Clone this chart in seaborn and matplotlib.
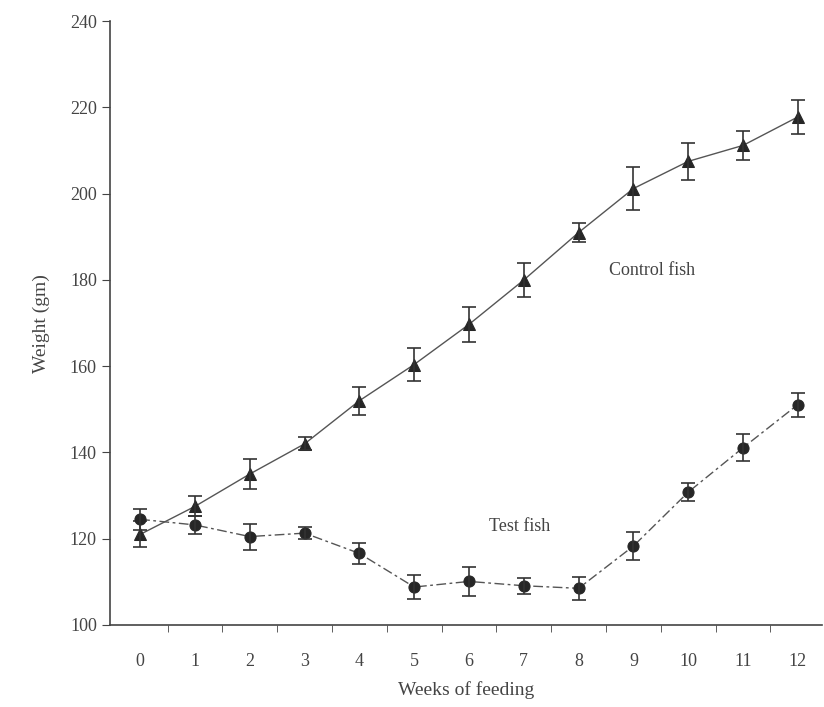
import pandas as pd
import seaborn as sns
import matplotlib.pyplot as plt
from matplotlib.ticker import FixedLocator

# Data
weeks = list(range(13))
control_weight = [121, 127.5, 135, 142, 152, 160.4, 169.7, 180, 191, 201.2, 207.5, 211.2, 217.8]
control_err = [3.0, 2.3, 3.4, 1.5, 3.2, 3.9, 4.1, 4.0, 2.3, 5.0, 4.3, 3.3, 4.0]
test_weight = [124.5, 123.2, 120.5, 121.3, 116.6, 108.8, 110.1, 109.1, 108.5, 118.3, 130.8, 141.1, 151.1]
test_err = [2.4, 2.1, 3.0, 1.4, 2.4, 2.8, 3.3, 1.9, 2.6, 3.3, 2.1, 3.1, 2.8]
tick_labels = ["0", "1", "2", "3", "4", "5", "6", "7", "8", "9", "10", "11", "12"]

control = pd.DataFrame({"week": weeks, "weight": control_weight, "err": control_err})
test = pd.DataFrame({"week": weeks, "weight": test_weight, "err": test_err})

sns.set_style("ticks")
plt.rcParams["font.family"] = ["Liberation Serif", "DejaVu Serif"]

fig = plt.figure(figsize=(8.24, 7.07), dpi=100)
ax = fig.add_axes([0.1335, 0.116, 0.864, 0.854])

grey = "#555555"
mark = "#262626"

# Control fish: triangles, solid line
sns.lineplot(data=control, x="week", y="weight", ax=ax, color=grey, lw=1.0,
             marker="^", markersize=8, markerfacecolor=mark, markeredgecolor=mark)
ax.errorbar(control["week"], control["weight"], yerr=control["err"], fmt="none",
            ecolor="#333333", elinewidth=1.2, capsize=5, capthick=1.2)

# Test fish: circles, dashed line
sns.lineplot(data=test, x="week", y="weight", ax=ax, color=grey, lw=1.0,
             linestyle=(0, (7, 2.5, 2, 2.5)), marker="o", markersize=8,
             markerfacecolor=mark, markeredgecolor=mark)
ax.errorbar(test["week"], test["weight"], yerr=test["err"], fmt="none",
            ecolor="#333333", elinewidth=1.2, capsize=5, capthick=1.2)

ax.text(9.34, 182.3, "Control fish", fontsize=13, color="#444444", ha="center", va="center")
ax.text(6.93, 122.8, "Test fish", fontsize=13, color="#444444", ha="center", va="center")

ax.set_xlim(-0.55, 12.44)
ax.set_ylim(100, 240)
ax.set_yticks(range(100, 241, 20))
ax.set_xticks(weeks)
ax.set_xticklabels(tick_labels)
ax.xaxis.set_minor_locator(FixedLocator([w + 0.5 for w in weeks[:-1]]))
ax.tick_params(axis="x", which="major", length=0, pad=20, labelsize=13, labelcolor="#444444")
ax.tick_params(axis="x", which="minor", length=5, direction="out", color="#444444")
ax.tick_params(axis="y", length=6, labelsize=13, labelcolor="#444444", color="#444444")

ax.set_xlabel("Weeks of feeding", fontsize=14, color="#444444", labelpad=8)
ax.set_ylabel("Weight (gm)", fontsize=14, color="#444444", labelpad=14)

sns.despine(ax=ax)
for s in ("left", "bottom"):
    ax.spines[s].set_color("#444444")
    ax.spines[s].set_linewidth(1.2)

fig.savefig("out.png", dpi=100)
